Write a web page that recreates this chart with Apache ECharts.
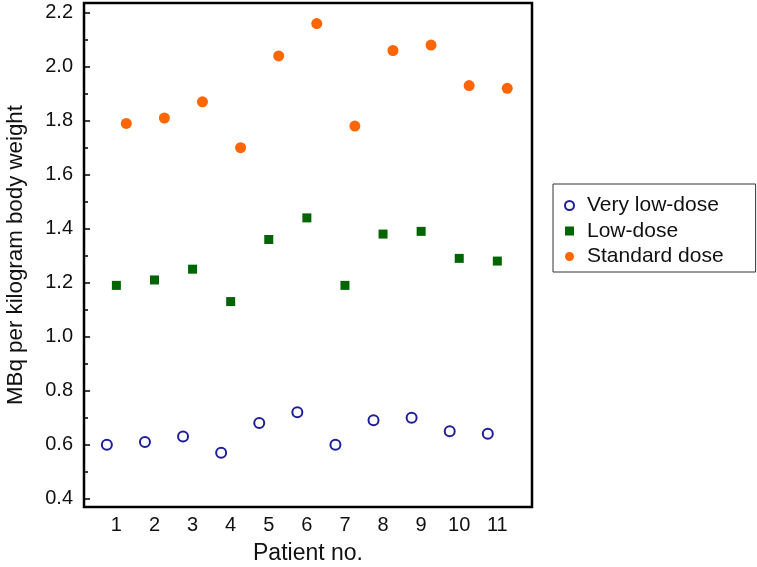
<!DOCTYPE html>
<html><head><meta charset="utf-8">
<script src="https://cdn.jsdelivr.net/npm/echarts@6/dist/echarts.min.js"></script>
<style>html,body{margin:0;padding:0;background:#fff}#c{width:757px;height:567px}</style>
</head><body><div id="c"></div>
<script>
const patients = [1,2,3,4,5,6,7,8,9,10,11];
const veryLowDose = [0.60,0.61,0.63,0.57,0.68,0.72,0.60,0.69,0.70,0.65,0.64];
const lowDose = [1.19,1.21,1.25,1.13,1.36,1.44,1.19,1.38,1.39,1.29,1.28];
const standardDose = [1.79,1.81,1.87,1.70,2.04,2.16,1.78,2.06,2.08,1.93,1.92];
const yTicks = [0.4,0.6,0.8,1.0,1.2,1.4,1.6,1.8,2.0,2.2];
const yMinorTicks = [0.5,0.7,0.9,1.1,1.3,1.5,1.7,1.9,2.1];
const seriesNames = ['Very low-dose','Low-dose','Standard dose'];
const offsets = [-0.25, 0, 0.26];

const font = 'Liberation Sans, Arial, sans-serif';
const chart = echarts.init(document.getElementById('c'), null, {renderer:'canvas'});
function pts(vals, off){ return patients.map((p,i)=>[p+off, vals[i]]); }
chart.setOption({
  animation:false,
  backgroundColor:'#fff',
  grid:{left:84, top:3, right:225, bottom:60, show:true, borderColor:'#000', borderWidth:2.5,
    backgroundColor:'transparent', outerBoundsMode:'none', containLabel:false},
  xAxis:{type:'value', min:0.15, max:11.91,
    name:'Patient no.', nameLocation:'middle', nameGap:35,
    nameTextStyle:{fontFamily:font, fontSize:23, color:'#111'},
    axisLine:{show:false}, axisTick:{show:false}, splitLine:{show:false},
    axisLabel:{customValues:patients, margin:8, fontFamily:font, fontSize:20, color:'#111'}},
  yAxis:[{type:'value', min:0.369, max:2.236,
    name:'MBq per kilogram body weight', nameLocation:'middle', nameGap:57,
    nameTextStyle:{fontFamily:font, fontSize:22.3, color:'#111'},
    axisLine:{show:false}, splitLine:{show:false},
    axisTick:{show:true, inside:true, length:6, customValues:yTicks, lineStyle:{color:'#000', width:1.5}},
    axisLabel:{customValues:yTicks, margin:11, fontFamily:font, fontSize:20, color:'#111',
      formatter:v=>v.toFixed(1)}},
   {type:'value', min:0.369, max:2.236, position:'left',
    axisLine:{show:false}, splitLine:{show:false}, axisLabel:{show:false},
    axisTick:{show:true, inside:true, length:4, customValues:yMinorTicks, lineStyle:{color:'#000', width:1.5}}}],
  legend:{orient:'vertical', left:553, top:184, padding:[11,32,5,11],
    itemWidth:9, itemHeight:9, itemGap:4.5, borderColor:'#333', borderWidth:1,
    textStyle:{fontFamily:font, fontSize:21, color:'#111', padding:[0,0,0,8]},
    data:seriesNames},
  series:[
    {name:seriesNames[0], type:'scatter', data:pts(veryLowDose, offsets[0]), symbol:'emptyCircle', symbolSize:10,
      itemStyle:{color:'#1e1e9a', borderWidth:1.3, opacity:1}},
    {name:seriesNames[1], type:'scatter', data:pts(lowDose, offsets[1]), symbol:'rect', symbolSize:9,
      itemStyle:{color:'#006400', opacity:1}},
    {name:seriesNames[2], type:'scatter', data:pts(standardDose, offsets[2]), symbol:'circle', symbolSize:11,
      itemStyle:{color:'#ff6600', opacity:1}}
  ]
});
</script></body></html>
